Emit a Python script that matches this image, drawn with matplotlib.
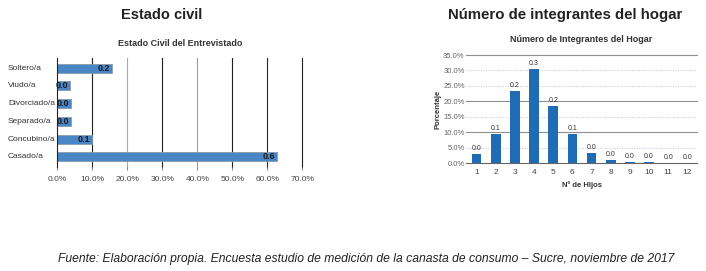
import matplotlib
matplotlib.use("Agg")
import matplotlib.pyplot as plt

plt.rcParams['font.family'] = ['Liberation Sans', 'DejaVu Sans']

# Data
estado_cats = ["Soltero/a", "Viudo/a", "Divorciado/a", "Separado/a", "Concubino/a", "Casado/a"]
estado_vals = [15.6, 3.6, 4.0, 4.0, 9.9, 62.9]

hijos_cats = ["1", "2", "3", "4", "5", "6", "7", "8", "9", "10", "11", "12"]
hijos_vals = [3.0, 9.4, 23.4, 30.5, 18.5, 9.5, 3.3, 1.2, 0.3, 0.3, 0.0, 0.0]

xticks_left = [0, 10, 20, 30, 40, 50, 60, 70]
yticks_right = [0, 5, 10, 15, 20, 25, 30, 35]

W, H = 706, 271
fig = plt.figure(figsize=(W/100, H/100), dpi=100)

def ax_px(l, t, r, b):
    return fig.add_axes([l/W, 1-b/H, (r-l)/W, (b-t)/H])

# ---------- Left chart ----------
axl = ax_px(57.3, 58.3, 302.3, 166.7)
ypos = list(range(len(estado_cats)))
axl.set_xlim(0, 70)
axl.set_ylim(len(estado_cats)-0.45, -0.55)
grid_cols = {10: '#222222', 20: '#b8a0b8', 30: '#222222', 40: '#b090c0', 50: '#222222', 60: '#2a2a10', 70: '#222222'}
for xv, c in grid_cols.items():
    axl.axvline(xv, color=c, lw=0.8, zorder=0, clip_on=False)
axl.barh(ypos, estado_vals, height=0.5, color='#4a86c6', edgecolor='#8a9aa8', lw=0.6, zorder=2)
for y, v in zip(ypos, estado_vals):
    axl.text(v - 0.6, y, f"{v/100:.1f}", ha='right', va='center', fontsize=6.5, fontweight='bold', color='#1a1a1a', zorder=3)
for s in ['top', 'right', 'bottom']:
    axl.spines[s].set_visible(False)
axl.spines['left'].set_color('#222222')
axl.spines['left'].set_linewidth(0.8)
axl.set_xticks(xticks_left)
axl.set_xticklabels([f"{v:.1f}%" for v in xticks_left], fontsize=6, color='#444444')
axl.tick_params(axis='x', length=2, color='#888888', pad=5)
axl.set_yticks([])
for y, c in zip(ypos, estado_cats):
    axl.text(-49.3/245*70, y, c, ha='left', va='center', fontsize=6, color='#333333')
axl.set_title("Estado Civil del Entrevistado", fontsize=6.5, fontweight='bold', color='#333333', pad=9)

# ---------- Right chart ----------
axr = ax_px(466, 55, 697, 163.3)
xs = list(range(1, len(hijos_cats)+1))
axr.set_xlim(0.45, 12.5)
axr.set_ylim(0, 35)
for yv in yticks_right[1:]:
    if yv in (10, 20, 35):
        axr.axhline(yv, color='#909090', lw=0.8, zorder=0, clip_on=False)
    else:
        axr.axhline(yv, color='#c8c0e0', lw=0.7, ls=(0, (1, 1.5)), zorder=0)
axr.bar(xs, hijos_vals, width=0.5, color='#1f6cb4', zorder=2)
for x, v in zip(xs, hijos_vals):
    axr.annotate(f"{v/100:.1f}", (x, v), xytext=(0, 1.5), textcoords='offset points',
                 ha='center', va='bottom', fontsize=5, color='#333333')
for s in ['top', 'right', 'left']:
    axr.spines[s].set_visible(False)
axr.spines['bottom'].set_color('#666666')
axr.spines['bottom'].set_linewidth(0.8)
axr.set_xticks(xs)
axr.set_xticklabels(hijos_cats, fontsize=6, color='#444444')
axr.tick_params(axis='x', length=0, pad=4)
axr.set_yticks(yticks_right)
axr.set_yticklabels([f"{v:.1f}%" for v in yticks_right], fontsize=5.5, color='#666666')
axr.tick_params(axis='y', length=0, pad=1)
axr.set_xlabel("Nº de Hijos", fontsize=5.5, fontweight='bold', color='#333333', labelpad=4)
axr.set_ylabel("Porcentaje", fontsize=5.5, fontweight='bold', color='#333333', labelpad=1)
axr.set_title("Número de Integrantes del Hogar", fontsize=6.5, fontweight='bold', color='#333333', pad=9)

# ---------- Headers & footer ----------
fig.text(162/W, 1-15/H, "Estado civil", ha='center', va='center', fontsize=10.5, fontweight='bold', color='#222222')
fig.text(565/W, 1-15/H, "Número de integrantes del hogar", ha='center', va='center', fontsize=10.8, fontweight='bold', color='#222222')
fig.text(366/W, 1-259/H, "Fuente: Elaboración propia. Encuesta estudio de medición de la canasta de consumo – Sucre, noviembre de 2017",
         ha='center', va='center', fontsize=8.7, style='italic', color='#222222')

fig.savefig("out.png", dpi=100)
